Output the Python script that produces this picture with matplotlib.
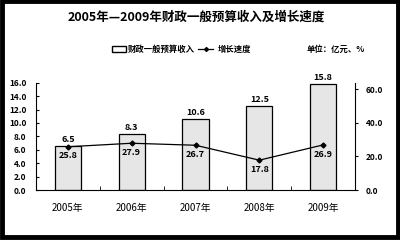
import matplotlib
matplotlib.use("Agg")
import matplotlib.pyplot as plt
from matplotlib.patches import Rectangle
from matplotlib.lines import Line2D
import numpy as np

plt.rcParams['font.family'] = ['Noto Sans CJK SC', 'DejaVu Sans']

years = ['2005年', '2006年', '2007年', '2008年', '2009年']
revenue = [6.5, 8.3, 10.6, 12.5, 15.8]
growth = [25.8, 27.9, 26.7, 17.8, 26.9]     # %

fig = plt.figure(figsize=(4, 2.4), dpi=100)
ax = fig.add_axes([0.09, 0.2083, 0.7975, 0.447])
x = np.arange(len(years))

ax.bar(x, revenue, width=0.41, color='#e6e6e6', edgecolor='black', linewidth=0.9, zorder=2)
for xi, v in zip(x, revenue):
    ax.text(xi, v + 0.3, '%.1f' % v, ha='center', va='bottom', fontsize=6.5, fontweight='bold')

ax.set_xlim(-0.5, 4.5)
ax.set_ylim(0, 16)
ax.set_yticks(np.arange(0, 17, 2))
ax.set_yticklabels(['%.1f' % t for t in np.arange(0, 17, 2)], fontsize=6, fontweight='bold')
ax.set_xticks(x)
ax.set_xticklabels(years, fontsize=7)
ax.set_xticks(np.arange(0.5, 4.5, 1), minor=True)
ax.tick_params(axis='x', which='major', length=0, pad=9)
ax.tick_params(axis='x', which='minor', length=3, direction='in')
ax.tick_params(axis='y', length=2, direction='in', pad=7)
ax.spines['top'].set_visible(False)
ax.spines['right'].set_visible(False)

ax2 = ax.twinx()
ax2.plot(x, growth, color='black', linewidth=0.9, marker='D', markersize=2.5, zorder=3)
for xi, g in zip(x, growth):
    ax2.text(xi, g - 2.8, '%.1f' % g, ha='center', va='top', fontsize=6.5, fontweight='bold')
ax2.set_ylim(0, 64)
ax2.set_yticks([0, 20, 40, 60])
ax2.set_yticklabels(['0.0', '20.0', '40.0', '60.0'], fontsize=6, fontweight='bold')
ax2.tick_params(axis='y', length=2, direction='out', pad=6)
ax2.spines['top'].set_visible(False)
ax2.spines['left'].set_visible(False)
ax2.spines['bottom'].set_visible(False)

fig.text(0.49, 0.93, '2005年—2009年财政一般预算收入及增长速度', ha='center', va='center',
         fontsize=9, fontweight='bold')

# legend row
fig.patches.append(Rectangle((0.281, 0.782), 0.034, 0.025, transform=fig.transFigure,
                             facecolor='white', edgecolor='black', linewidth=1.0))
fig.text(0.32, 0.795, '财政一般预算收入', ha='left', va='center', fontsize=6, fontweight='bold')
fig.lines.append(Line2D([0.495, 0.514, 0.533], [0.795, 0.795, 0.795], transform=fig.transFigure,
                        color='black', linewidth=0.9, marker='D', markersize=2,
                        markevery=[1]))
fig.text(0.545, 0.795, '增长速度', ha='left', va='center', fontsize=6, fontweight='bold')
fig.text(0.767, 0.795, '单位：亿元、%', ha='left', va='center', fontsize=6, fontweight='bold')

# black frame around the picture
fig.patches.append(Rectangle((0.004, 0.012), 0.99, 0.982, transform=fig.transFigure,
                             facecolor='none', edgecolor='black', linewidth=3.5))

fig.savefig('out.png', dpi=100)
